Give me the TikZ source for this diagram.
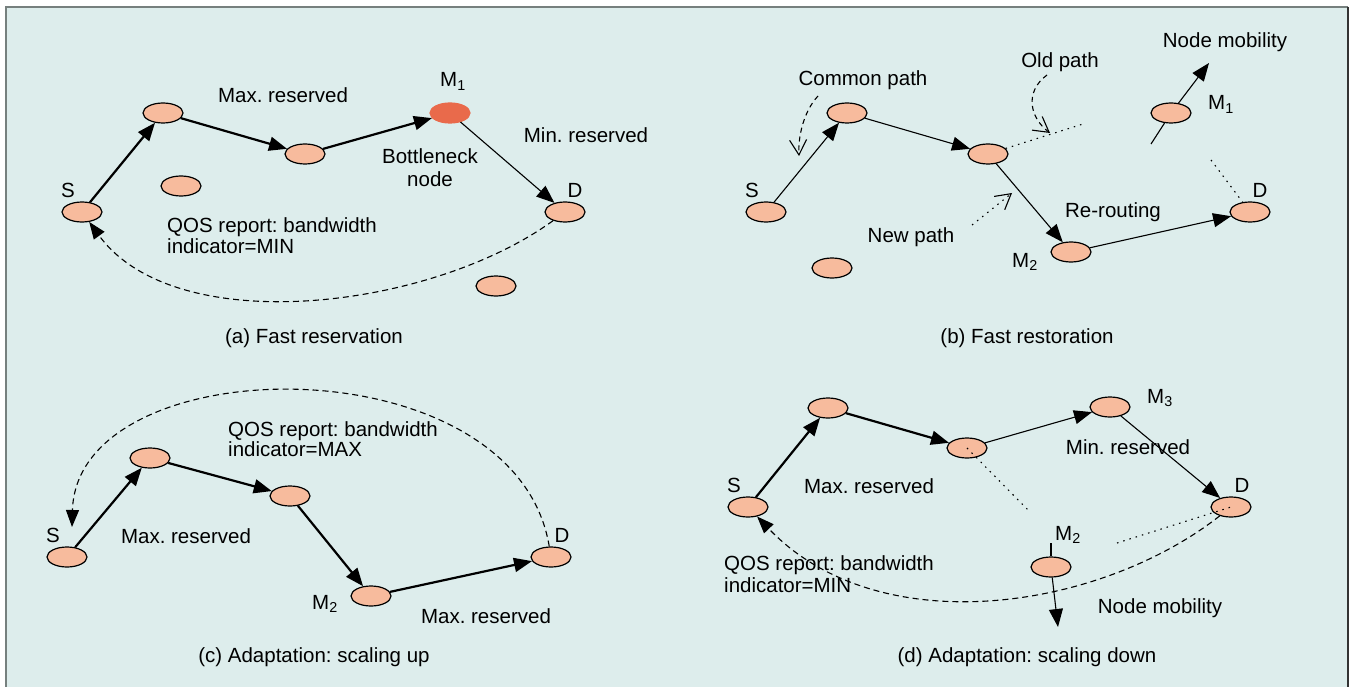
\documentclass[tikz,border=0pt]{standalone}
\usepackage{fontspec}
\setmainfont{Liberation Sans}
\usepackage{xcolor}
\usetikzlibrary{arrows.meta,shapes.geometric}
\definecolor{mybg}{RGB}{221,237,236}
\definecolor{mynode}{RGB}{247,187,157}
\definecolor{myred}{RGB}{233,106,75}
\definecolor{myframe}{RGB}{118,128,126}
\frenchspacing

\begin{document}
\begin{tikzpicture}[x=1pt,y=-1pt,
every node/.style={font=\fontsize{20.5}{21}\selectfont},
host/.style={ellipse,draw,line width=1.2pt,fill=mynode,minimum width=40pt,minimum height=20pt,inner sep=0pt},
lbl/.style={anchor=base,inner sep=0pt},
thk/.style={line width=2.2pt,-{Triangle[length=18pt,width=14pt]}},
thn/.style={line width=1.1pt,-{Triangle[length=18pt,width=14pt]}},
ret/.style={line width=1.1pt,dash pattern=on 6pt off 4pt,-{Triangle[length=17pt,width=13pt]}},
old/.style={line width=1.1pt,dash pattern=on 1.5pt off 5pt},
hint/.style={line width=1.1pt,-{Straight Barb[length=15pt,width=17pt]}}]
\useasboundingbox (0,0) rectangle (1351,687);
\fill[white] (0,0) rectangle (1351,687);
\fill[mybg] (6,7) rectangle (1348,687);
\draw[myframe,line width=2pt] (6,687) -- (6,7) -- (1348,7);
\draw[black!80,line width=2pt] (1348,7) -- (1348,687);

% (a)
\node[host] (aS) at (82,212) {};
\node[host] (a1) at (163,113) {};
\node[host] (a2) at (305,154) {};
\node[host,fill=myred,draw=myred] (aM) at (450,113) {};
\node[host] (aD) at (565,212) {};
\node[host] (ax1) at (181,186) {};
\node[host] (ax2) at (496,286) {};
\draw[thk] (aS) -- (a1);
\draw[thk] (a1) -- (a2);
\draw[thk] (a2) -- (aM);
\draw[thn] (aM) -- (aD);
\draw[ret] (aD) .. controls (430,310) and (175,340) .. (aS);
\node[lbl] at (68,197) {S};
\node[lbl] at (283,103) {Max. reserved};
\node[lbl] at (453,87) {M\textsubscript{1}};
\node[lbl] at (586,143) {Min. reserved};
\node[lbl] at (430,164) {Bottleneck};
\node[lbl] at (430,186) {node};
\node[lbl] at (575,197) {D};
\node[lbl,anchor=base west] at (167,233) {QOS report: bandwidth};
\node[lbl,anchor=base west] at (167,253) {indicator=MIN};
\node[lbl] at (314,343) {(a) Fast reservation};

% (b)
\node[host] (bS) at (766,212) {};
\node[host] (b1) at (847,113) {};
\node[host] (b2) at (988,154) {};
\node[host] (bM1) at (1171,113) {};
\node[host] (bD) at (1250,212) {};
\node[host] (bM2) at (1071,252) {};
\node[host] (bx) at (832,268) {};
\coordinate (bold) at (1083,124);
\coordinate (bcut) at (1211,160);
\coordinate (bm1a) at (1151,144);
\coordinate (bm1b) at (1209,63);
\draw[thn] (bS) -- (b1);
\draw[thn] (b1) -- (b2);
\draw[thn] (b2) -- (bM2);
\draw[thn] (bM2) -- (bD);
\draw[old] (b2) -- (bold);
\draw[old] (bcut) -- (bD);
\draw[line width=1.1pt] (bm1a) -- (bM1);
\draw[thn] (bM1) -- (bm1b);
\draw[hint,dash pattern=on 5pt off 4pt] (818,96) .. controls (803,112) and (798,138) .. (799,156);
\draw[hint,dash pattern=on 5pt off 4pt] (1047,75) .. controls (1024,92) and (1030,118) .. (1050,133);
\draw[hint,old] (972,225) -- (1012,193);
\node[lbl] at (1225,48) {Node mobility};
\node[lbl] at (1060,68) {Old path};
\node[lbl] at (863,86) {Common path};
\node[lbl] at (1221,110) {M\textsubscript{1}};
\node[lbl] at (752,197) {S};
\node[lbl] at (1260,197) {D};
\node[lbl] at (1113,217) {Re-routing};
\node[lbl] at (911,242) {New path};
\node[lbl] at (1025,267) {M\textsubscript{2}};
\node[lbl] at (1027,343) {(b) Fast restoration};

% (c)
\node[host] (cS) at (67,557) {};
\node[host] (c1) at (150,458) {};
\node[host] (c2) at (290,496) {};
\node[host] (cM) at (371,596) {};
\node[host] (cD) at (551,557) {};
\coordinate (cSr) at (72,527);
\draw[thk] (cS) -- (c1);
\draw[thk] (c1) -- (c2);
\draw[thk] (c2) -- (cM);
\draw[thk] (cM) -- (cD);
\draw[ret] (cD) .. controls (515,340) and (77,346) .. (cSr);
\node[lbl] at (53,542) {S};
\node[lbl] at (186,543) {Max. reserved};
\node[lbl,anchor=base west] at (228,436) {QOS report: bandwidth};
\node[lbl,anchor=base west] at (228,456) {indicator=MAX};
\node[lbl] at (562,542) {D};
\node[lbl] at (325,609) {M\textsubscript{2}};
\node[lbl] at (486,623) {Max. reserved};
\node[lbl] at (314,662) {(c) Adaptation: scaling up};

% (d)
\node[host] (dS) at (748,507) {};
\node[host] (d1) at (828,408) {};
\node[host] (d2) at (967,448) {};
\node[host] (dM3) at (1110,407) {};
\node[host] (dD) at (1231,507) {};
\node[host] (dM2) at (1051,567) {};
\coordinate (dcut1) at (1029,511);
\coordinate (dcut2) at (1117,543);
\coordinate (dm2a) at (1051,543);
\coordinate (dm2b) at (1058,627);
\draw[thk] (dS) -- (d1);
\draw[thk] (d1) -- (d2);
\draw[thn] (d2) -- (dM3);
\draw[thn] (dM3) -- (dD);
\draw[old] (d2.center) -- (dcut1);
\draw[old] (dcut2) -- (dD.center);
\draw[line width=1.1pt] (dm2a) -- (dM2);
\draw[thn] (dM2) -- (dm2b);
\draw[ret] (dD) .. controls (1100,610) and (879,644) .. (dS);
\node[lbl] at (734,492) {S};
\node[lbl] at (869,493) {Max. reserved};
\node[lbl] at (1160,403) {M\textsubscript{3}};
\node[lbl] at (1128,454) {Min. reserved};
\node[lbl] at (1242,492) {D};
\node[lbl] at (1068,540) {M\textsubscript{2}};
\node[lbl,anchor=base west] at (724,570) {QOS report: bandwidth};
\node[lbl,anchor=base west] at (724,592) {indicator=MIN};
\node[lbl] at (1160,613) {Node mobility};
\node[lbl] at (1027,662) {(d) Adaptation: scaling down};
\end{tikzpicture}
\end{document}
